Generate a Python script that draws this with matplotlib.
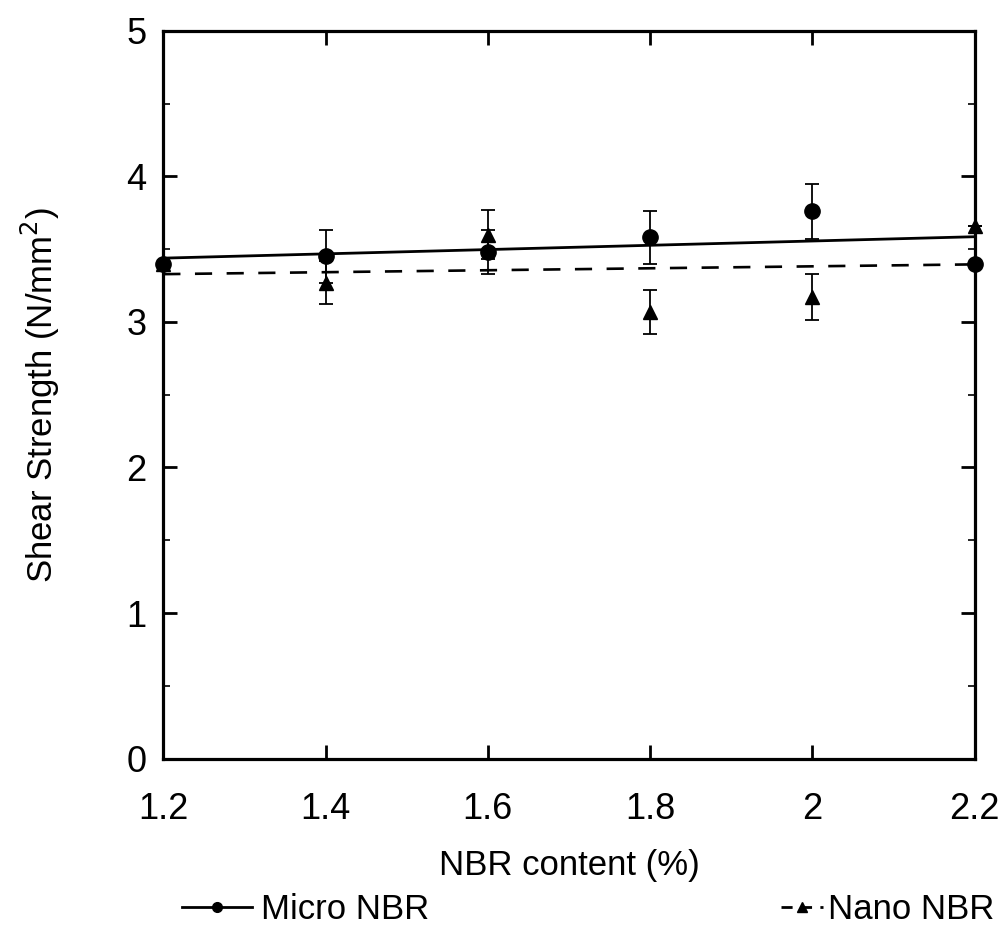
import numpy as np
import matplotlib
matplotlib.use('Agg')
import matplotlib.pyplot as plt
from matplotlib.lines import Line2D

plt.rcParams['font.family'] = ['Liberation Sans', 'DejaVu Sans']

# data
nbr = [1.2, 1.4, 1.6, 1.8, 2.0, 2.2]
micro = [3.40, 3.45, 3.48, 3.58, 3.76, 3.40]
micro_err = [0, 0.18, 0.15, 0.18, 0.19, 0]
nano = [3.40, 3.27, 3.60, 3.07, 3.17, 3.66]
nano_err = [0, 0.15, 0.17, 0.15, 0.16, 0]
xticks = [1.2, 1.4, 1.6, 1.8, 2, 2.2]
xticklabels = ['1.2', '1.4', '1.6', '1.8', '2', '2.2']

fig = plt.figure(figsize=(10.08, 9.32), dpi=100)
ax = fig.add_axes([0.162, 0.186, 0.805, 0.781])

ax.errorbar(nbr, micro, yerr=micro_err, fmt='o', color='black', ms=11,
            ecolor='black', elinewidth=1.3, capsize=5, capthick=1.3, clip_on=False, zorder=3)
ax.errorbar(nbr, nano, yerr=nano_err, fmt='^', color='black', ms=10,
            ecolor='black', elinewidth=1.3, capsize=5, capthick=1.3, clip_on=False, zorder=3)

# linear trend lines
xs = np.array([nbr[0], nbr[-1]])
p_micro = np.polyfit(nbr, micro, 1)
p_nano = np.polyfit(nbr, nano, 1)
ax.plot(xs, np.polyval(p_micro, xs), color='black', lw=2.0)
ax.plot(xs, np.polyval(p_nano, xs), color='black', lw=1.9, dashes=(6.5, 5.5))

ax.set_xlim(1.2, 2.2)
ax.set_ylim(0, 5)
ax.set_xticks(xticks)
ax.set_xticklabels(xticklabels)
ax.set_yticks([0, 1, 2, 3, 4, 5])
ax.set_yticks(np.arange(0.5, 5, 1.0), minor=True)
ax.tick_params(which='major', direction='in', length=10, width=2, labelsize=26,
               top=True, right=True)
ax.tick_params(axis='x', pad=24)
ax.tick_params(axis='y', pad=12)
ax.tick_params(which='minor', direction='in', length=5, width=1.2, right=True)
for s in ax.spines.values():
    s.set_linewidth(2.3)

ax.set_xlabel('NBR content (%)', fontsize=25, labelpad=16)
ax.set_ylabel('Shear Strength (N/mm$^2$)', fontsize=25, labelpad=46)

h1 = Line2D([], [], color='black', lw=2, marker='o', ms=7)
h2 = Line2D([], [], color='black', lw=2, marker='^', ms=7, dashes=(4, 3))
fig.legend([h1], ['Micro NBR'], loc='lower left', bbox_to_anchor=(0.181, 0.006),
           frameon=False, fontsize=25, borderpad=0, borderaxespad=0,
           handlelength=2.0, handletextpad=0.25)
fig.legend([h2], ['Nano NBR'], loc='lower left', bbox_to_anchor=(0.775, 0.006),
           frameon=False, fontsize=25, borderpad=0, borderaxespad=0,
           handlelength=1.2, handletextpad=0.15)

fig.savefig('out.png', dpi=100)
